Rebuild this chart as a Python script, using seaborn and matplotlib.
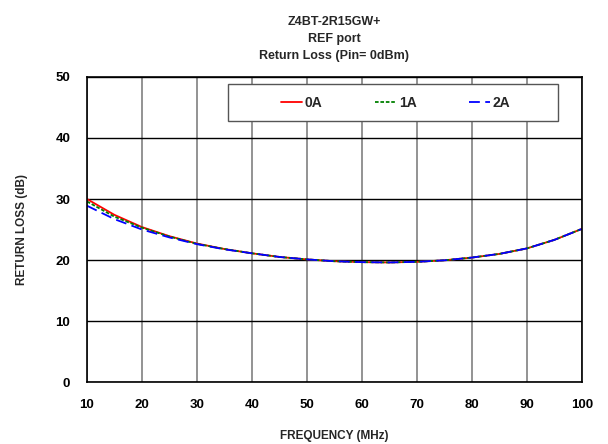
import pandas as pd
import numpy as np
import matplotlib
matplotlib.use('Agg')
import matplotlib.pyplot as plt
from matplotlib.patches import Rectangle
import seaborn as sns

# valores
freq_mhz = [10, 15, 20, 25, 30, 35, 40, 45, 50, 55, 60, 65, 70, 75, 80, 85, 90, 95, 100]
rl_0a = [30.0, 27.4, 25.4, 23.9, 22.7, 21.8, 21.1, 20.5, 20.1, 19.8, 19.65, 19.6, 19.7, 19.95, 20.4, 21.0, 21.9, 23.3, 25.1]
rl_1a = [29.6, 27.1, 25.3, 23.85, 22.65, 21.8, 21.1, 20.5, 20.1, 19.8, 19.65, 19.6, 19.7, 19.95, 20.4, 21.0, 21.9, 23.3, 25.1]
rl_2a = [28.9, 26.7, 25.0, 23.7, 22.6, 21.75, 21.1, 20.5, 20.1, 19.8, 19.65, 19.6, 19.7, 19.95, 20.4, 21.0, 21.9, 23.3, 25.1]
serie_nomes = ['0A', '1A', '2A']

df = pd.DataFrame({
    'freq': freq_mhz * 3,
    'rl': rl_0a + rl_1a + rl_2a,
    'corrente': [n for n in serie_nomes for _ in freq_mhz],
})

sns.set_style('white')
plt.rcParams['font.family'] = ['Liberation Sans', 'DejaVu Sans']
plt.rcParams['font.weight'] = 'bold'

fig = plt.figure(figsize=(6.08, 4.44), dpi=100)
ax = fig.add_axes([0.143, 0.1396, 0.814, 0.687])

cores = {'0A': '#ff0000', '1A': '#008000', '2A': '#0000ff'}
sns.lineplot(data=df, x='freq', y='rl', hue='corrente', style='corrente',
             palette=cores, dashes={'0A': '', '1A': (2, 1), '2A': (6, 3)},
             linewidth=1.3, ax=ax)

ax.set_xlim(10, 100)
ax.set_ylim(0, 50)
ax.set_xticks(range(10, 101, 10))
ax.set_yticks(range(0, 51, 10))
ax.xaxis.grid(True, color='#808080', linewidth=1.2)
ax.yaxis.grid(True, color='black', linewidth=1.0)
ax.set_axisbelow(True)
for s in ax.spines.values():
    s.set_color('black')
    s.set_linewidth(1.2)
ax.tick_params(axis='both', direction='out', length=4, width=1, labelsize=9.5, colors='black')
ax.tick_params(axis='x', pad=8)
ax.tick_params(axis='y', pad=8)
for lbl in ax.get_xticklabels() + ax.get_yticklabels():
    lbl.set_fontweight('bold')

ax.set_xlabel('FREQUENCY (MHz)', fontsize=8.5, fontweight='bold', labelpad=14)
ax.set_ylabel('RETURN LOSS (dB)', fontsize=8.5, fontweight='bold', labelpad=20)
ax.set_title('Z4BT-2R15GW+\nREF port\nReturn Loss (Pin= 0dBm)', fontsize=9,
             fontweight='bold', pad=13, linespacing=1.55)

# caixa da legenda (mais larga que as entradas, como no original)
caixa = Rectangle((0.285, 0.856), 0.6665, 0.121, transform=ax.transAxes,
                  facecolor='white', edgecolor='#555555', linewidth=1.0, zorder=4)
ax.add_patch(caixa)

leg = ax.legend(title=None, loc='center', ncol=3, bbox_to_anchor=(0.624, 0.914),
                frameon=False, handlelength=1.5, handletextpad=0.2,
                columnspacing=3.8, prop={'weight': 'bold', 'size': 10})
leg.set_zorder(5)

plt.savefig('out.png', dpi=100)
